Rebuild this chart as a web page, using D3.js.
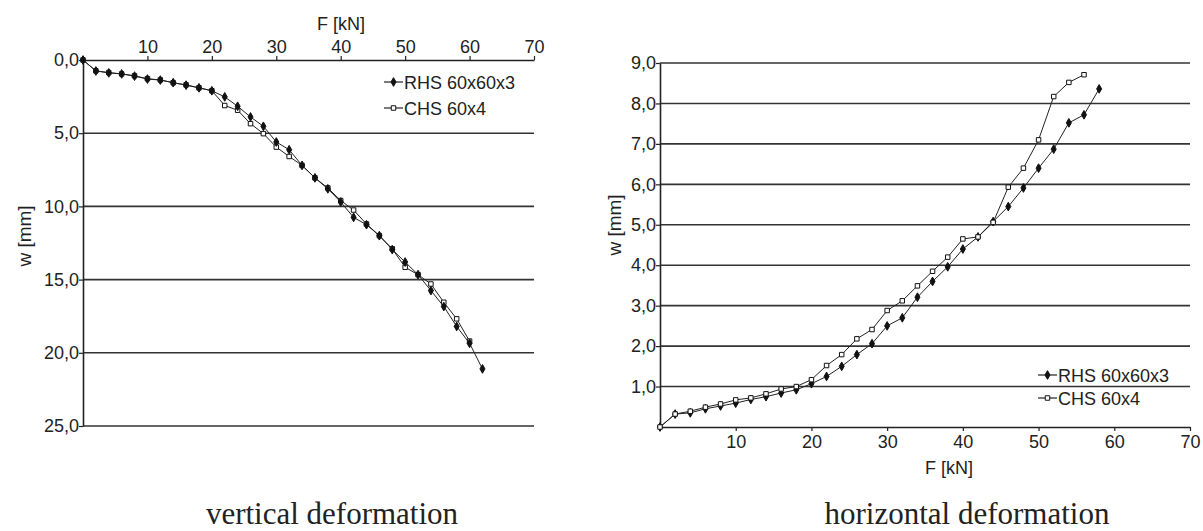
<!DOCTYPE html>
<html>
<head>
<meta charset="utf-8">
<script src="https://cdn.jsdelivr.net/npm/d3@7"></script>
<style>
  body { margin: 0; background: #fff; }
  svg { display: block; }
  text { font-family: "Liberation Sans", Arial, sans-serif; fill: #222; }
  .title { font-family: "Liberation Serif", "Times New Roman", serif; font-size: 31px; fill: #222; }
  .tick text { font-size: 18px; }
  .tick line { stroke: #222; stroke-width: 1.2; }
</style>
</head>
<body>
<div id="chart"></div>
<script>
// loads [kN]
var loadRHSv = [0,2,4,6,8,10,12,14,16,18,20,22,24,26,28,30,32,34,36,38,40,42,44,46,48,50,52,54,56,58,60,62];
var loadCHSv = [0,2,4,6,8,10,12,14,16,18,20,22,24,26,28,30,32,34,36,38,40,42,44,46,48,50,52,54,56,58,60];
var loadRHSh = [0,2,4,6,8,10,12,14,16,18,20,22,24,26,28,30,32,34,36,38,40,42,44,46,48,50,52,54,56,58];
var loadCHSh = [0,2,4,6,8,10,12,14,16,18,20,22,24,26,28,30,32,34,36,38,40,42,44,46,48,50,52,54,56];

// vertical deformation w [mm]
var vertRHS = [0,0.75,0.88,0.95,1.1,1.3,1.37,1.55,1.72,1.9,2.1,2.52,3.16,3.89,4.53,5.6,6.13,7.2,8.05,8.8,9.7,10.75,11.25,12.0,12.95,13.8,14.66,15.75,16.84,18.2,19.35,21.1];
var vertCHS = [0,0.74,0.86,0.95,1.08,1.28,1.36,1.55,1.7,1.9,2.1,3.11,3.43,4.35,5.03,5.95,6.59,7.2,8.05,8.74,9.6,10.25,11.2,12.0,12.9,14.16,14.66,15.3,16.55,17.68,19.2];

// horizontal deformation w [mm]
var horRHS = [0,0.32,0.35,0.45,0.52,0.59,0.68,0.75,0.84,0.92,1.07,1.25,1.5,1.79,2.06,2.5,2.7,3.21,3.6,3.96,4.4,4.7,5.08,5.45,5.91,6.4,6.87,7.52,7.72,8.36];
var horCHS = [0,0.32,0.39,0.49,0.57,0.67,0.72,0.82,0.94,1.0,1.17,1.52,1.79,2.18,2.41,2.88,3.12,3.49,3.85,4.2,4.65,4.7,5.06,5.93,6.4,7.1,8.17,8.52,8.71];

var forceTicks = [10,20,30,40,50,60,70];
var vertTicks = [0,5,10,15,20,25];
var horTicks = [1,2,3,4,5,6,7,8,9];
var seriesNames = ['RHS 60x60x3', 'CHS 60x4'];

var fmt = function (d) { return d3.format('.1f')(d).replace('.', ','); };

var svg = d3.select('#chart')
  .append('svg')
  .attr('width', 1203)
  .attr('height', 531);

function zip(xs, ys) {
  return xs.map(function (x, i) { return { f: x, w: ys[i] }; });
}

function marker(kind) {
  return kind === 'RHS'
    ? d3.symbol().type(d3.symbolDiamond).size(22)
    : d3.symbol().type(d3.symbolSquare).size(20);
}

function drawSeries(g, data, x, y, kind) {
  var line = d3.line()
    .x(function (d) { return x(d.f); })
    .y(function (d) { return y(d.w); });
  g.append('path')
    .datum(data)
    .attr('fill', 'none')
    .attr('stroke', '#222')
    .attr('stroke-width', 1)
    .attr('d', line);
  g.selectAll(null)
    .data(data)
    .enter()
    .append('path')
    .attr('transform', function (d) { return 'translate(' + x(d.f) + ',' + y(d.w) + ')'; })
    .attr('d', marker(kind))
    .attr('fill', kind === 'RHS' ? '#111' : '#fff')
    .attr('stroke', '#111')
    .attr('stroke-width', 1);
}

function drawLegend(g, lx, ly, gap) {
  seriesNames.forEach(function (name, i) {
    var yy = ly + i * gap;
    var kind = i === 0 ? 'RHS' : 'CHS';
    g.append('line')
      .attr('x1', lx).attr('x2', lx + 19)
      .attr('y1', yy).attr('y2', yy)
      .attr('stroke', '#222').attr('stroke-width', 1.2);
    g.append('path')
      .attr('transform', 'translate(' + (lx + 9.5) + ',' + yy + ')')
      .attr('d', marker(kind))
      .attr('fill', kind === 'RHS' ? '#111' : '#fff')
      .attr('stroke', '#111');
    g.append('text')
      .attr('x', lx + 20)
      .attr('y', yy + 6.5)
      .style('font-size', '18px')
      .text(name);
  });
}

// Left chart: vertical deformation
var xV = d3.scaleLinear().domain([0, 70]).range([83, 534]);
var yV = d3.scaleLinear().domain([0, 25]).range([60, 426]);
var left = svg.append('g');

left.selectAll('.grid')
  .data(vertTicks.slice(1))
  .enter()
  .append('line')
  .attr('x1', xV(0)).attr('x2', xV(70))
  .attr('y1', function (d) { return yV(d); })
  .attr('y2', function (d) { return yV(d); })
  .attr('stroke', '#333').attr('stroke-width', 1.6);

var xAxisV = left.append('g')
  .attr('transform', 'translate(0,' + yV(0) + ')')
  .call(d3.axisTop(xV).tickValues(forceTicks).tickSize(4).tickPadding(3).tickSizeOuter(0));
var yAxisV = left.append('g')
  .attr('transform', 'translate(' + xV(0) + ',0)')
  .call(d3.axisLeft(yV).tickValues(vertTicks).tickFormat(fmt).tickSize(4).tickPadding(0).tickSizeOuter(0));
[xAxisV, yAxisV].forEach(function (a) {
  a.select('.domain').attr('stroke', '#222').attr('stroke-width', 1.6);
});

drawSeries(left, zip(loadCHSv, vertCHS), xV, yV, 'CHS');
drawSeries(left, zip(loadRHSv, vertRHS), xV, yV, 'RHS');
drawLegend(left, 384, 82, 26);

left.append('text')
  .attr('x', 341).attr('y', 30)
  .attr('text-anchor', 'middle')
  .style('font-size', '18px')
  .text('F [kN]');
left.append('text')
  .attr('transform', 'translate(31,236)rotate(-90)')
  .attr('text-anchor', 'middle')
  .style('font-size', '19px')
  .text('w [mm]');
left.append('text')
  .attr('class', 'title')
  .attr('x', 332).attr('y', 524)
  .attr('text-anchor', 'middle')
  .text('vertical deformation');

// Right chart: horizontal deformation
var xH = d3.scaleLinear().domain([0, 70]).range([660, 1190]);
var yH = d3.scaleLinear().domain([0, 9]).range([427, 63]);
var right = svg.append('g');

right.selectAll('.grid')
  .data(horTicks)
  .enter()
  .append('line')
  .attr('x1', xH(0)).attr('x2', xH(70))
  .attr('y1', function (d) { return yH(d); })
  .attr('y2', function (d) { return yH(d); })
  .attr('stroke', '#333').attr('stroke-width', 1.6);

var xAxisH = right.append('g')
  .attr('transform', 'translate(0,' + yH(0) + ')')
  .call(d3.axisBottom(xH).tickValues(forceTicks).tickSize(4).tickPadding(4).tickSizeOuter(0));
var yAxisH = right.append('g')
  .attr('transform', 'translate(' + xH(0) + ',0)')
  .call(d3.axisLeft(yH).tickValues(horTicks).tickFormat(fmt).tickSize(4).tickPadding(0).tickSizeOuter(0));
[xAxisH, yAxisH].forEach(function (a) {
  a.select('.domain').attr('stroke', '#222').attr('stroke-width', 1.6);
});

drawSeries(right, zip(loadRHSh, horRHS), xH, yH, 'RHS');
drawSeries(right, zip(loadCHSh, horCHS), xH, yH, 'CHS');
drawLegend(right, 1038, 375, 23);

right.append('text')
  .attr('x', 949).attr('y', 474)
  .attr('text-anchor', 'middle')
  .style('font-size', '18px')
  .text('F [kN]');
right.append('text')
  .attr('transform', 'translate(621,225)rotate(-90)')
  .attr('text-anchor', 'middle')
  .style('font-size', '19px')
  .text('w [mm]');
right.append('text')
  .attr('class', 'title')
  .attr('x', 967).attr('y', 524)
  .attr('text-anchor', 'middle')
  .text('horizontal deformation');
</script>
</body>
</html>
